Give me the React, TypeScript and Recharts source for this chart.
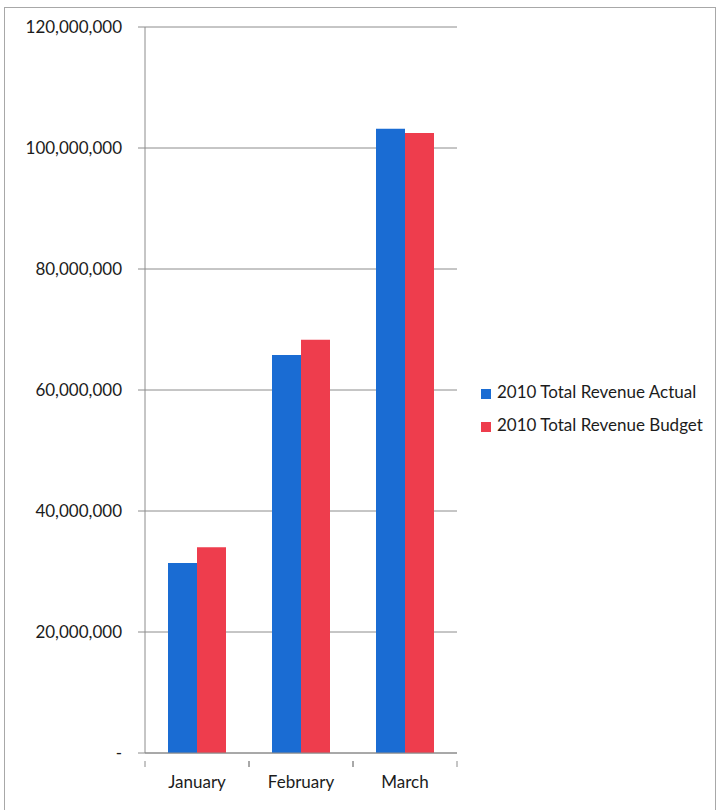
import { BarChart, Bar, XAxis, YAxis, CartesianGrid, Legend } from 'recharts';

const months = ['January', 'February', 'March'];
const actual = [31400000, 65800000, 103200000];
const budget = [34000000, 68300000, 102500000];
const yTicks = [0, 20000000, 40000000, 60000000, 80000000, 100000000, 120000000];

const data = months.map((m, i) => ({ month: m, actual: actual[i], budget: budget[i] }));

const FONT = 'Lato, "Open Sans", sans-serif';
const TEXT = '#1c1c1c';
const AXIS = '#8c8c8c';
const PLOT_W = 312;
const HALF_BAND = PLOT_W / months.length / 2;

// Excel-style x axis: tick marks between categories, labels in the middle
function MonthTick(props: any) {
  const { x, y, payload } = props;
  return (
    <g>
      <line x1={x - HALF_BAND} y1={y} x2={x - HALF_BAND} y2={y + 6} stroke={AXIS} />
      <line x1={x + HALF_BAND} y1={y} x2={x + HALF_BAND} y2={y + 6} stroke={AXIS} />
      <text x={x} y={y + 27} textAnchor="middle" fontFamily={FONT} fontSize={17} fill={TEXT}>
        {payload.value}
      </text>
    </g>
  );
}

export default function App() {
  return (
    <div style={{ position: 'absolute', left: 0, top: 0, width: 722, height: 810, background: 'white', overflow: 'hidden' }}>
      {/* outer frame */}
      <div style={{
        position: 'absolute', left: 4, top: 7, width: 712, height: 820,
        border: '1px solid #a8a8a8', boxSizing: 'border-box',
      }} />
      <div style={{ position: 'absolute', left: 0, top: 0 }}>
        <BarChart
          width={722}
          height={810}
          data={data}
          barSize={29}
          barGap={0}
          margin={{ top: 27, right: 265, left: 0, bottom: 27 }}
        >
          <CartesianGrid vertical={false} stroke={AXIS} strokeWidth={1} />
          <XAxis
            dataKey="month"
            height={30}
            interval={0}
            axisLine={{ stroke: AXIS }}
            tickLine={false}
            tick={<MonthTick />}
          />
          <YAxis
            width={145}
            domain={[0, 120000000]}
            ticks={yTicks}
            interval={0}
            axisLine={{ stroke: AXIS }}
            tickLine={{ stroke: AXIS }}
            tickSize={7}
            tickMargin={16}
            tickFormatter={(v: number) => (v === 0 ? '-' : v.toLocaleString('en-US'))}
            tick={{ fontFamily: FONT, fontSize: 17, fill: TEXT }}
          />
          <Legend
            layout="vertical"
            align="center"
            verticalAlign="middle"
            iconType="square"
            iconSize={10}
            wrapperStyle={{ left: 481, top: 375, width: 240, fontFamily: FONT, fontSize: 17, lineHeight: '33px' }}
            formatter={(value: string) => <span style={{ color: TEXT, marginLeft: 2 }}>{value}</span>}
          />
          <Bar dataKey="actual" name="2010 Total Revenue Actual" fill="#1a6cd3" isAnimationActive={false} />
          <Bar dataKey="budget" name="2010 Total Revenue Budget" fill="#ee3d4d" isAnimationActive={false} />
        </BarChart>
      </div>
    </div>
  );
}
